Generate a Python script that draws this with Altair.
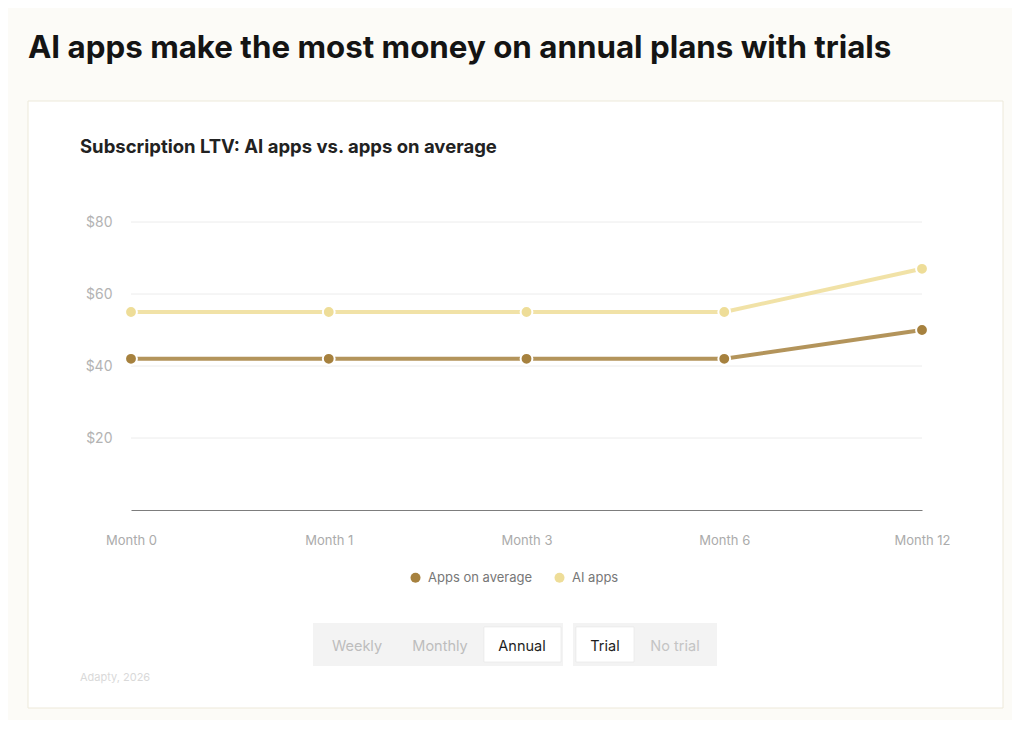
import altair as alt
import pandas as pd

# ---- data ----
months = ["Month 0", "Month 1", "Month 3", "Month 6", "Month 12"]
apps_avg = [42, 42, 42, 42, 50]
ai_apps = [55, 55, 55, 55, 67]
series_names = ["Apps on average", "AI apps"]
dot_colors = ["#a6813e", "#eedd98"]
y_ticks = [20, 40, 60, 80]

title_text = "AI apps make the most money on annual plans with trials"
subtitle_text = "Subscription LTV: AI apps vs. apps on average"
source_text = "Adapty, 2026"
plan_buttons = ["Weekly", "Monthly", "Annual"]
trial_buttons = ["Trial", "No trial"]

rows = []
for m, a, b in zip(months, apps_avg, ai_apps):
    rows.append({"month": m, "series": series_names[0], "value": a})
    rows.append({"month": m, "series": series_names[1], "value": b})
df = pd.DataFrame(rows)
grid_df = pd.DataFrame({"value": y_ticks})

W, H = 791, 288
FONT = "Inter"

x_enc = alt.X("month:N", sort=months,
              scale=alt.Scale(type="point", padding=0, domain=months),
              axis=alt.Axis(labelAngle=0, domainColor="#7d7d7d", domainWidth=1.2,
                            ticks=False, grid=False, labelPadding=24,
                            labelColor="#ababab", labelFontSize=13,
                            labelFont=FONT, title=None, zindex=1))
y_scale = alt.Scale(domain=[0, 80], nice=False, zero=True)
y_axis = alt.Axis(values=y_ticks, labelExpr="'$' + datum.value",
                  grid=False, domain=False, ticks=False,
                  labelPadding=19, labelFontSize=14,
                  labelColor="#b3b3b3", labelFont=FONT,
                  title=None, zindex=1)
y_enc = alt.Y("value:Q", scale=y_scale, axis=y_axis)

legend = alt.Legend(orient="none", legendX=278, legendY=349,
                    direction="horizontal", title=None,
                    symbolType="circle", symbolSize=100, symbolOpacity=1,
                    symbolStrokeWidth=0, labelFontSize=13,
                    labelColor="#777777", labelFont=FONT,
                    columnPadding=20, labelOffset=6)
color_enc = alt.Color("series:N", scale=alt.Scale(domain=series_names, range=dot_colors),
                      legend=legend)

one = alt.Data(values=[{"k": 1}])

def box(x1, x2, y1, y2, fill, stroke=None, sw=0, r=0):
    kw = dict(fill=fill, cornerRadius=r)
    if stroke:
        kw.update(stroke=stroke, strokeWidth=sw)
    return alt.Chart(one).mark_rect(**kw).encode(
        x=alt.value(x1), x2=alt.value(x2), y=alt.value(y1), y2=alt.value(y2))

def label(txt, x, y, size, color, weight=400, align="left", baseline="alphabetic"):
    return alt.Chart(one).mark_text(
        text=txt, align=align, baseline=baseline, fontSize=size,
        fontWeight=weight, font=FONT, color=color).encode(
        x=alt.value(x), y=alt.value(y))

card = box(-103, 872, -121, 486, "#ffffff", "#ede9da", 1)
title = label(title_text, -103, -164, 31.3, "#141414", 700)
subtitle = label(subtitle_text, -51, -69, 18.5, "#222222", 700)
source = label(source_text, -51, 459, 11, "#d9d9d9")

seg1 = box(182, 432, 401, 444, "#f3f3f3")
seg2 = box(442, 586, 401, 444, "#f3f3f3")
btn_annual = box(353, 430, 405, 440, "#ffffff", "#e6e6e6", 0.6)
btn_trial = box(445, 503, 405, 440, "#ffffff", "#e6e6e6", 0.6)

btn_x = [226, 309, 391]
trial_x = [474, 544]
btn_labels = []
for t, bx in zip(plan_buttons, btn_x):
    col = "#1e1e1e" if t == "Annual" else "#bdbdbd"
    btn_labels.append(label(t, bx, 425, 14.5, col, align="center", baseline="middle"))
for t, bx in zip(trial_buttons, trial_x):
    col = "#1e1e1e" if t == "Trial" else "#c4c4c4"
    btn_labels.append(label(t, bx, 425, 14.5, col, align="center", baseline="middle"))

grid = alt.Chart(grid_df).mark_rule(color="#ececec", strokeWidth=1).encode(
    y=alt.Y("value:Q", scale=y_scale, axis=y_axis))

lines = alt.Chart(df).mark_line(strokeWidth=4, opacity=0.85).encode(
    x=x_enc, y=y_enc, color=color_enc)

dots = alt.Chart(df).mark_circle(size=140, opacity=1, stroke="white", strokeWidth=2).encode(
    x=x_enc, y=y_enc, color=color_enc)

chart = alt.layer(card, title, subtitle, source, seg1, seg2, btn_annual, btn_trial,
                  *btn_labels, grid, lines, dots).properties(
    width=W, height=H,
    autosize=alt.AutoSizeParams(type="none"),
    padding={"left": 123, "top": 214, "right": 90, "bottom": 210},
).configure(background="#fcfbf7").configure_view(stroke=None)

chart.save("out.html", embed_options={"renderer": "svg", "actions": False})
